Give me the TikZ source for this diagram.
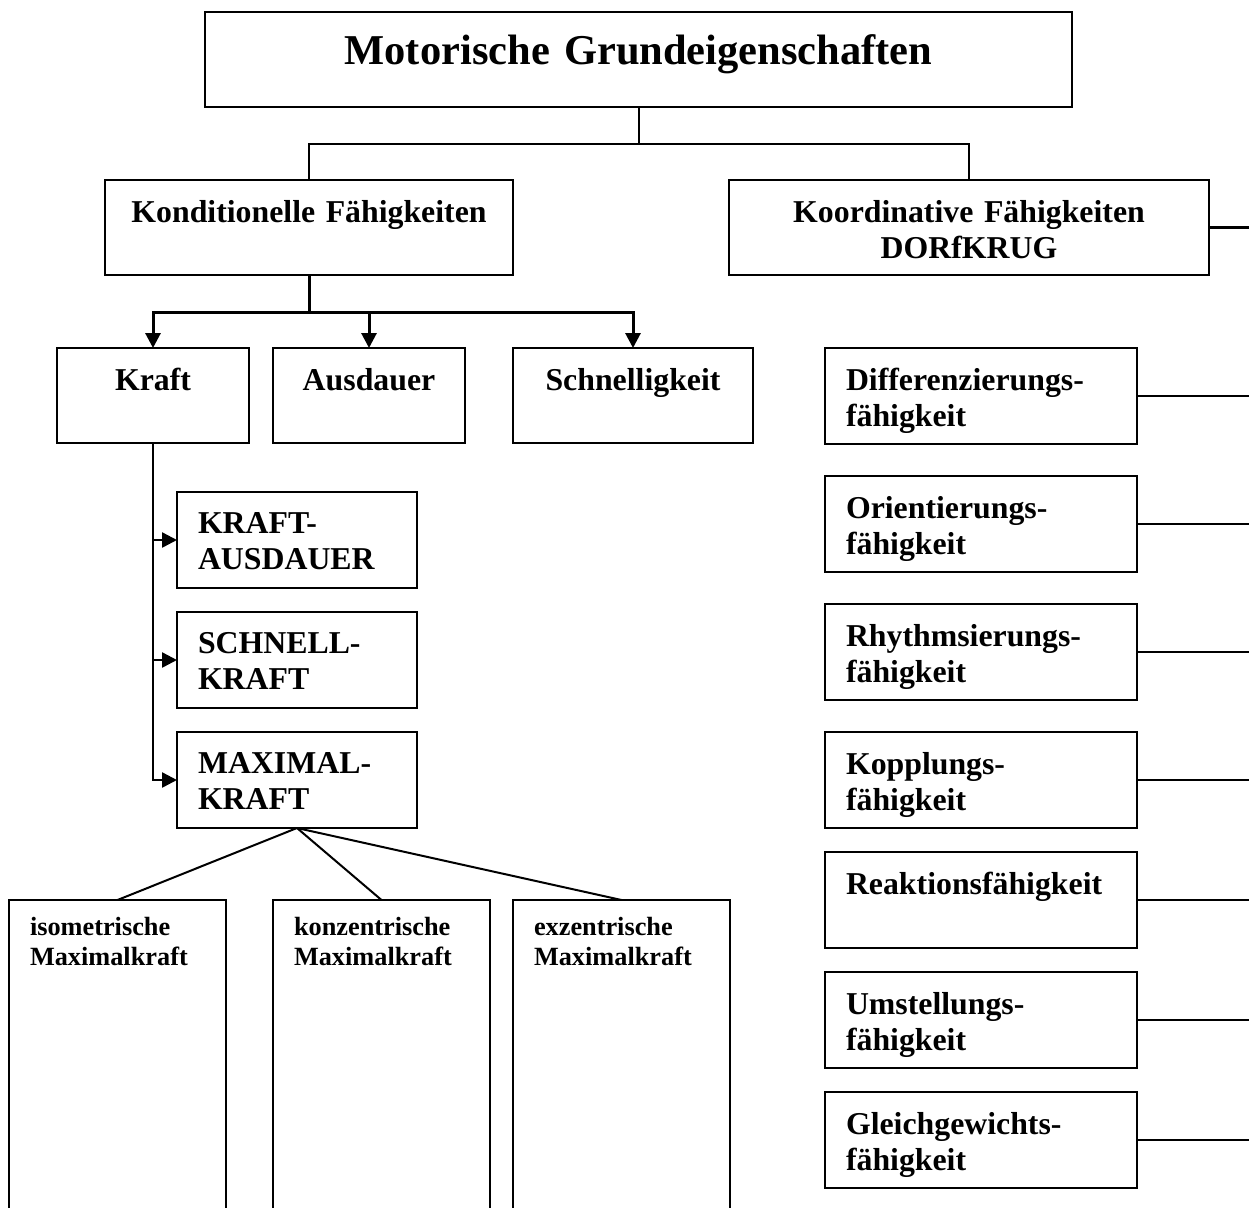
\documentclass[tikz,border=0pt]{standalone}
\usepackage{fontspec}
\setmainfont{Liberation Serif}
\usetikzlibrary{arrows.meta}

\begin{document}
\begin{tikzpicture}[x=1pt,y=-1pt,
  box/.style={draw, line width=2pt, inner xsep=21pt, inner ysep=0pt, outer sep=0pt,
    anchor=north west, font=\bfseries\fontsize{31.8}{36.5}\selectfont},
  lbox/.style={box, align=left},
  cbox/.style={box, align=center},
  row/.style={text height=42pt, text depth=53pt},
  tall/.style={text height=42pt, text depth=54pt},
  sub/.style={lbox, text width=198pt, text height=41pt, text depth=55pt},
  skill/.style={lbox, text width=270pt, tall},
  kind/.style={lbox, text width=175pt, text height=35pt, text depth=330pt,
    font=\bfseries\fontsize{26.3}{30}\selectfont},
  link/.style={line width=2pt},
  trunk/.style={line width=3pt},
  tip/.style={-{Triangle[length=15pt,width=15pt]}}
]
\path[use as bounding box] (0,0) rectangle (1249,1207);
\clip (0,0) rectangle (1249,1207);
\coordinate (edge) at (1249,0);

% top level
\node[cbox, text width=825pt, text height=52pt, text depth=43pt,
  font=\bfseries\fontsize{42.5}{48}\selectfont] (title) at (205,12) {Motorische Grundeigenschaften};

\node[cbox, row, text width=366pt] (kond) at (105,180) {Konditionelle Fähigkeiten};
\node[cbox, row, text width=438pt] (koord) at (729,180) {Koordinative Fähigkeiten\\DORfKRUG};

\draw[link] (title.south) -- ++(0,37) -| (kond.north);
\draw[link] (title.south) -- ++(0,37) -| (koord.north);
\draw[trunk] (koord.east) -- (koord.east -| edge);

% conditional abilities
\node[cbox, row, text width=150pt] (kraft) at (57,348) {Kraft};
\node[cbox, row, text width=150pt] (ausd) at (273,348) {Ausdauer};
\node[cbox, row, text width=198pt] (schn) at (513,348) {Schnelligkeit};

\draw[trunk, tip] (kond.south) -- ++(0,37) -| (kraft.north);
\draw[trunk, tip] (kond.south) -- ++(0,37) -| (ausd.north);
\draw[trunk, tip] (kond.south) -- ++(0,37) -| (schn.north);

% forms of strength
\node[sub] (ka) at (177,492) {KRAFT-\\AUSDAUER};
\node[sub] (sk) at (177,612) {SCHNELL-\\KRAFT};
\node[sub] (mk) at (177,732) {MAXIMAL-\\KRAFT};

\draw[line width=2.5pt, tip] (kraft.south) |- (ka.west);
\draw[line width=2.5pt, tip] (kraft.south) |- (sk.west);
\draw[line width=2.5pt, tip] (kraft.south) |- (mk.west);

% kinds of maximal strength
\node[kind] (iso) at (9,900) {isometrische\\Maximalkraft};
\node[kind] (konz) at (273,900) {konzentrische\\Maximalkraft};
\node[kind] (exz) at (513,900) {exzentrische\\Maximalkraft};

\draw[link] (mk.south) -- (iso.north);
\draw[link] (mk.south) -- (konz.north);
\draw[link] (mk.south) -- (exz.north);

% coordinative abilities
\node[skill] (diff) at (825,348) {Differenzierungs-\\fähigkeit};
\node[skill] (orie) at (825,476) {Orientierungs-\\fähigkeit};
\node[skill] (rhyt) at (825,604) {Rhythmsierungs-\\fähigkeit};
\node[skill] (kopp) at (825,732) {Kopplungs-\\fähigkeit};
\node[skill] (reak) at (825,852) {Reaktionsfähigkeit};
\node[skill] (umst) at (825,972) {Umstellungs-\\fähigkeit};
\node[skill] (glei) at (825,1092) {Gleichgewichts-\\fähigkeit};

\foreach \n in {diff,orie,rhyt,kopp,reak,umst,glei}
  \draw[link] (\n.east) -- (\n.east -| edge);
\end{tikzpicture}
\end{document}
